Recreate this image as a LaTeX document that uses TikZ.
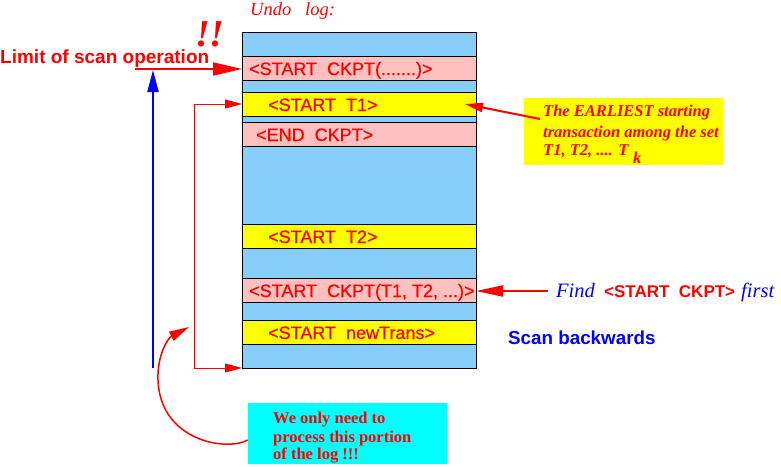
\documentclass[tikz,border=0pt]{standalone}
\usepackage{fontspec}
\setmainfont{Liberation Serif}
\setsansfont{Liberation Sans}
\newfontfamily\rowfont{Liberation Sans}[FakeBold=0.6]
\usetikzlibrary{arrows.meta}
\definecolor{logblue}{RGB}{135,206,250}
\definecolor{logpink}{RGB}{255,192,192}
\definecolor{logyellow}{RGB}{255,255,0}
\definecolor{logcyan}{RGB}{0,255,255}
\definecolor{myred}{RGB}{255,0,0}
\definecolor{myblue}{RGB}{0,0,255}
\begin{document}
\begin{tikzpicture}[x=1pt,y=-1pt,
  logrow/.style={draw=black, line width=1pt, minimum width=234pt, inner sep=0pt, outer sep=0pt},
  rowtext/.style={anchor=base west, inner sep=0pt, text=myred, font=\rowfont\fontsize{18}{18}\selectfont},
  thinarrow/.style={draw=myred, line width=1pt, -{Triangle[length=17pt,width=9pt]}},
  thickarrow/.style={draw=myred, line width=2pt},
  notetext/.style={anchor=base west, inner sep=0pt, text=myred},
]
\useasboundingbox (0,0) rectangle (781,466);

% log rows
\node[logrow, fill=logblue,   minimum height=24pt] (b1) at (359,44) {};
\node[logrow, fill=logpink,   minimum height=24pt] (ck1) at (359,68) {};
\node[logrow, fill=logblue,   minimum height=12pt] (b2) at (359,86) {};
\node[logrow, fill=logyellow, minimum height=24pt] (t1) at (359,104) {};
\node[logrow, fill=logblue,   minimum height=6pt] (b3) at (359,119) {};
\node[logrow, fill=logpink,   minimum height=24pt] (eck) at (359,134) {};
\node[logrow, fill=logblue,   minimum height=78pt] (b4) at (359,185) {};
\node[logrow, fill=logyellow, minimum height=24pt] (t2) at (359,236) {};
\node[logrow, fill=logblue,   minimum height=30pt] (b5) at (359,263) {};
\node[logrow, fill=logpink,   minimum height=24pt] (ck2) at (359,290) {};
\node[logrow, fill=logblue,   minimum height=18pt] (b6) at (359,311) {};
\node[logrow, fill=logyellow, minimum height=24pt] (nt) at (359,332) {};
\node[logrow, fill=logblue,   minimum height=24pt] (b7) at (359,356) {};

% row texts
\node[rowtext] (ck1t) at (249,75) {<START~~CKPT(.......)>};
\node[rowtext] (t1t) at (268,111) {<START~~T1>};
\node[rowtext] (eckt) at (256,141) {<END~~CKPT>};
\node[rowtext] (t2t) at (268,243) {<START~~T2>};
\node[rowtext] (ck2t) at (249,297) {<START~~CKPT(T1, T2, ...)>};
\node[rowtext] (ntt) at (268,339) {<START~~newTrans>};

% title
\node[notetext, font=\itshape\fontsize{18.5}{18.5}\selectfont] (title) at (250,15) {Undo~~~log:};

% limit of scan operation
\node[notetext, font=\sffamily\bfseries\fontsize{19}{19}\selectfont] (limit) at (0,63) {Limit of scan operation};
\node[notetext, font=\bfseries\itshape\fontsize{38}{38}\selectfont] (bang) at (195,46) {!!};
\coordinate (limstart) at (135,69);
\draw[thickarrow, -{Triangle[length=29pt,width=13pt]}] (limstart) -- (ck1.west |- limstart);

% blue scan arrow
\coordinate (scanbot) at (153,368);
\coordinate (scantop) at (153,70);
\draw[draw=myblue, line width=2pt, -{Triangle[length=22pt,width=11pt]}] (scanbot) -- (scantop);

% bracket
\coordinate (brtop) at (194,104);
\coordinate (brbot) at (194,368);
\draw[thinarrow] (brbot) -- (b7.south west);
\draw[thinarrow] (brtop) -- (t1.west);
\draw[draw=myred, line width=1pt] (brtop) -- (brbot);

% callout
\node[fill=logyellow, minimum width=199pt, minimum height=67pt, inner sep=0pt] (callout) at (623.5,131.5) {};
\node[notetext, font=\bfseries\itshape\fontsize{16.5}{16.5}\selectfont] (cl1) at (543,116) {The EARLIEST starting};
\node[notetext, font=\bfseries\itshape\fontsize{16.5}{16.5}\selectfont] (cl2) at (543,137) {transaction among the set};
\node[notetext, font=\bfseries\itshape\fontsize{16.5}{16.5}\selectfont] (cl3) at (543,155) {T1, T2, .... T};
\node[notetext, font=\bfseries\itshape\fontsize{16.5}{16.5}\selectfont] (clk) at (633,163) {k};
\coordinate (calloutfoot) at (540,119);
\coordinate (t1tip) at (465,104);
\draw[draw=myred, line width=2pt, -{Triangle[length=18pt,width=9pt]}] (calloutfoot) -- (t1tip);

% find
\coordinate (findfoot) at (548,291);
\draw[thickarrow, -{Triangle[length=27pt,width=11pt]}] (findfoot) -- (ck2.east |- findfoot);
\node[notetext, text=myblue, font=\itshape\fontsize{20.5}{20.5}\selectfont] (find) at (556,297) {Find};
\node[notetext, font=\sffamily\bfseries\fontsize{17}{17}\selectfont] (findck) at (604,297) {<START~~CKPT>};
\node[notetext, text=myblue, font=\itshape\fontsize{20.5}{20.5}\selectfont] (first) at (741,297) {first};

% scan backwards
\node[notetext, text=myblue, font=\sffamily\bfseries\fontsize{18.8}{18.8}\selectfont] (scanb) at (508,344) {Scan backwards};

% cyan note
\node[fill=logcyan, minimum width=199pt, minimum height=61pt, inner sep=0pt] (note) at (347.5,433.5) {};
\node[notetext, font=\bfseries\fontsize{16.5}{16.5}\selectfont] (n1) at (273,423) {We only need to};
\node[notetext, font=\bfseries\fontsize{16.5}{16.5}\selectfont] (n2) at (273,442) {process this portion};
\node[notetext, font=\bfseries\fontsize{16.5}{16.5}\selectfont] (n3) at (273,459) {of the log !!!};
\coordinate (curvetip) at (189,327);
\draw[draw=myred, line width=1.5pt, -{Triangle[length=20pt,width=10pt]}]
  (note.west |- 0,440) .. controls (225,452) and (160,440) .. (158,380)
  .. controls (157,355) and (168,338) .. (curvetip);
\end{tikzpicture}
\end{document}
